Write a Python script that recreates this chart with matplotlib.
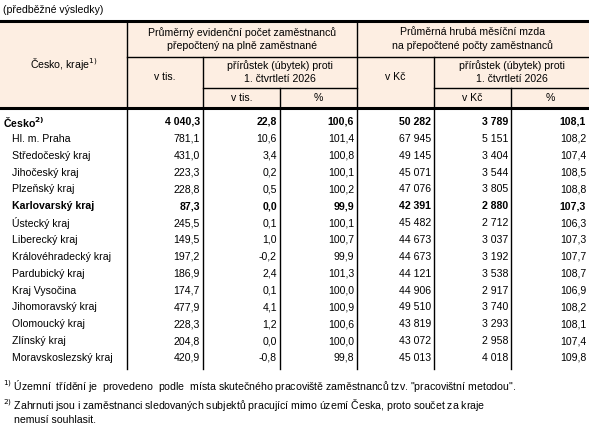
import matplotlib
matplotlib.use("Agg")
import matplotlib.pyplot as plt
from matplotlib.patches import Rectangle

plt.rcParams['font.family'] = ['Liberation Sans', 'DejaVu Sans']

regions = ["Česko", "Hl. m. Praha", "Středočeský kraj", "Jihočeský kraj", "Plzeňský kraj",
           "Karlovarský kraj", "Ústecký kraj", "Liberecký kraj", "Královéhradecký kraj",
           "Pardubický kraj", "Kraj Vysočina", "Jihomoravský kraj", "Olomoucký kraj",
           "Zlínský kraj", "Moravskoslezský kraj"]
emp = ["4 040,3", "781,1", "431,0", "223,3", "228,8", "87,3", "245,5", "149,5", "197,2",
       "186,9", "174,7", "477,9", "228,3", "204,8", "420,9"]
emp_diff = ["22,8", "10,6", "3,4", "0,2", "0,5", "0,0", "0,1", "1,0", "-0,2", "2,4", "0,1",
            "4,1", "1,2", "0,0", "-0,8"]
emp_pct = ["100,6", "101,4", "100,8", "100,1", "100,2", "99,9", "100,1", "100,7", "99,9",
           "101,3", "100,0", "100,9", "100,6", "100,0", "99,8"]
wage = ["50 282", "67 945", "49 145", "45 071", "47 076", "42 391", "45 482", "44 673",
        "44 673", "44 121", "44 906", "49 510", "43 819", "43 072", "45 013"]
wage_diff = ["3 789", "5 151", "3 404", "3 544", "3 805", "2 880", "2 712", "3 037", "3 192",
             "3 538", "2 917", "3 740", "3 293", "2 958", "4 018"]
wage_pct = ["108,1", "108,2", "107,4", "108,5", "108,8", "107,3", "106,3", "107,3", "107,7",
            "108,7", "106,9", "108,2", "108,1", "107,4", "109,8"]
bold_rows = {0, 5}

W, H = 589, 429
fig = plt.figure(figsize=(W / 100, H / 100), dpi=100)
ax = fig.add_axes([0, 0, 1, 1])
ax.set_xlim(0, W)
ax.set_ylim(H, 0)
ax.axis('off')

fs = 7.6
xs = [0, 127, 203, 280, 357, 434, 511, 589]
top, mid1, mid2, hbot, tbot = 21, 57, 88, 108, 369

ax.text(3, 10, "(předběžné výsledky)", fontsize=fs, va='center')
ax.add_patch(Rectangle((0, top), W, hbot - top, facecolor='#fdeee2', edgecolor='none'))
ax.plot([0, W], [top, top], color='black', lw=2.2)
ax.plot([0, W], [hbot, hbot], color='black', lw=2.2)
for x in xs[1:-1]:
    y0 = top if x in (127, 357) else (mid1 if x in (203, 434) else mid2)
    ax.plot([x, x], [y0, tbot], color='black', lw=1)
ax.plot([127, W], [mid1, mid1], color='black', lw=1)
ax.plot([203, 357], [mid2, mid2], color='black', lw=1)
ax.plot([434, W], [mid2, mid2], color='black', lw=1)

def c(x0, x1):
    return (x0 + x1) / 2

ax.text(c(127, 357), 39, "Průměrný evidenční počet zaměstnanců\npřepočtený na plně zaměstnané",
        fontsize=fs, ha='center', va='center', linespacing=1.4)
ax.text(c(357, 589), 39, "Průměrná hrubá měsíční mzda\nna přepočtené počty zaměstnanců",
        fontsize=fs, ha='center', va='center', linespacing=1.4)
ax.text(c(0, 127), 64, "Česko, kraje$^{1)}$", fontsize=fs, ha='center', va='center')
ax.text(c(127, 203), 77, "v tis.", fontsize=fs, ha='center', va='center')
ax.text(c(357, 434), 77, "v Kč", fontsize=fs, ha='center', va='center')
for a, b in ((203, 357), (434, 589)):
    ax.text(c(a, b), 72, "přírůstek (úbytek) proti\n1. čtvrtletí 2026", fontsize=fs,
            ha='center', va='center', linespacing=1.4)
for a, b, t in ((203, 280, "v tis."), (280, 357, "%"), (434, 511, "v Kč"), (511, 589, "%")):
    ax.text(c(a, b), 98, t, fontsize=fs, ha='center', va='center')

cols = [emp, emp_diff, emp_pct, wage, wage_diff, wage_pct]
for i, name in enumerate(regions):
    y = 122 + i * 16.85
    w = 'bold' if i in bold_rows else 'normal'
    if i == 0:
        ax.text(3, y, name + r"$^{\mathbf{2)}}$", fontsize=fs, va='center', fontweight=w)
    else:
        ax.text(12, y, name, fontsize=fs, va='center', fontweight=w)
    for j, col in enumerate(cols):
        ax.text(xs[j + 2] - 3, y, col[i], fontsize=fs, ha='right', va='center', fontweight=w)

ax.text(3, 386, "$^{1)}$ Územní  třídění je  provedeno  podle  místa skutečného pracoviště zaměstnanců tzv. \"pracovištní metodou\".",
        fontsize=fs, va='center')
ax.text(3, 405, "$^{2)}$ Zahrnuti jsou i zaměstnanci sledovaných subjektů pracující mimo území Česka, proto součet za kraje",
        fontsize=fs, va='center')
ax.text(14, 420, "nemusí souhlasit.", fontsize=fs, va='center')

fig.savefig("out.png", dpi=100)
